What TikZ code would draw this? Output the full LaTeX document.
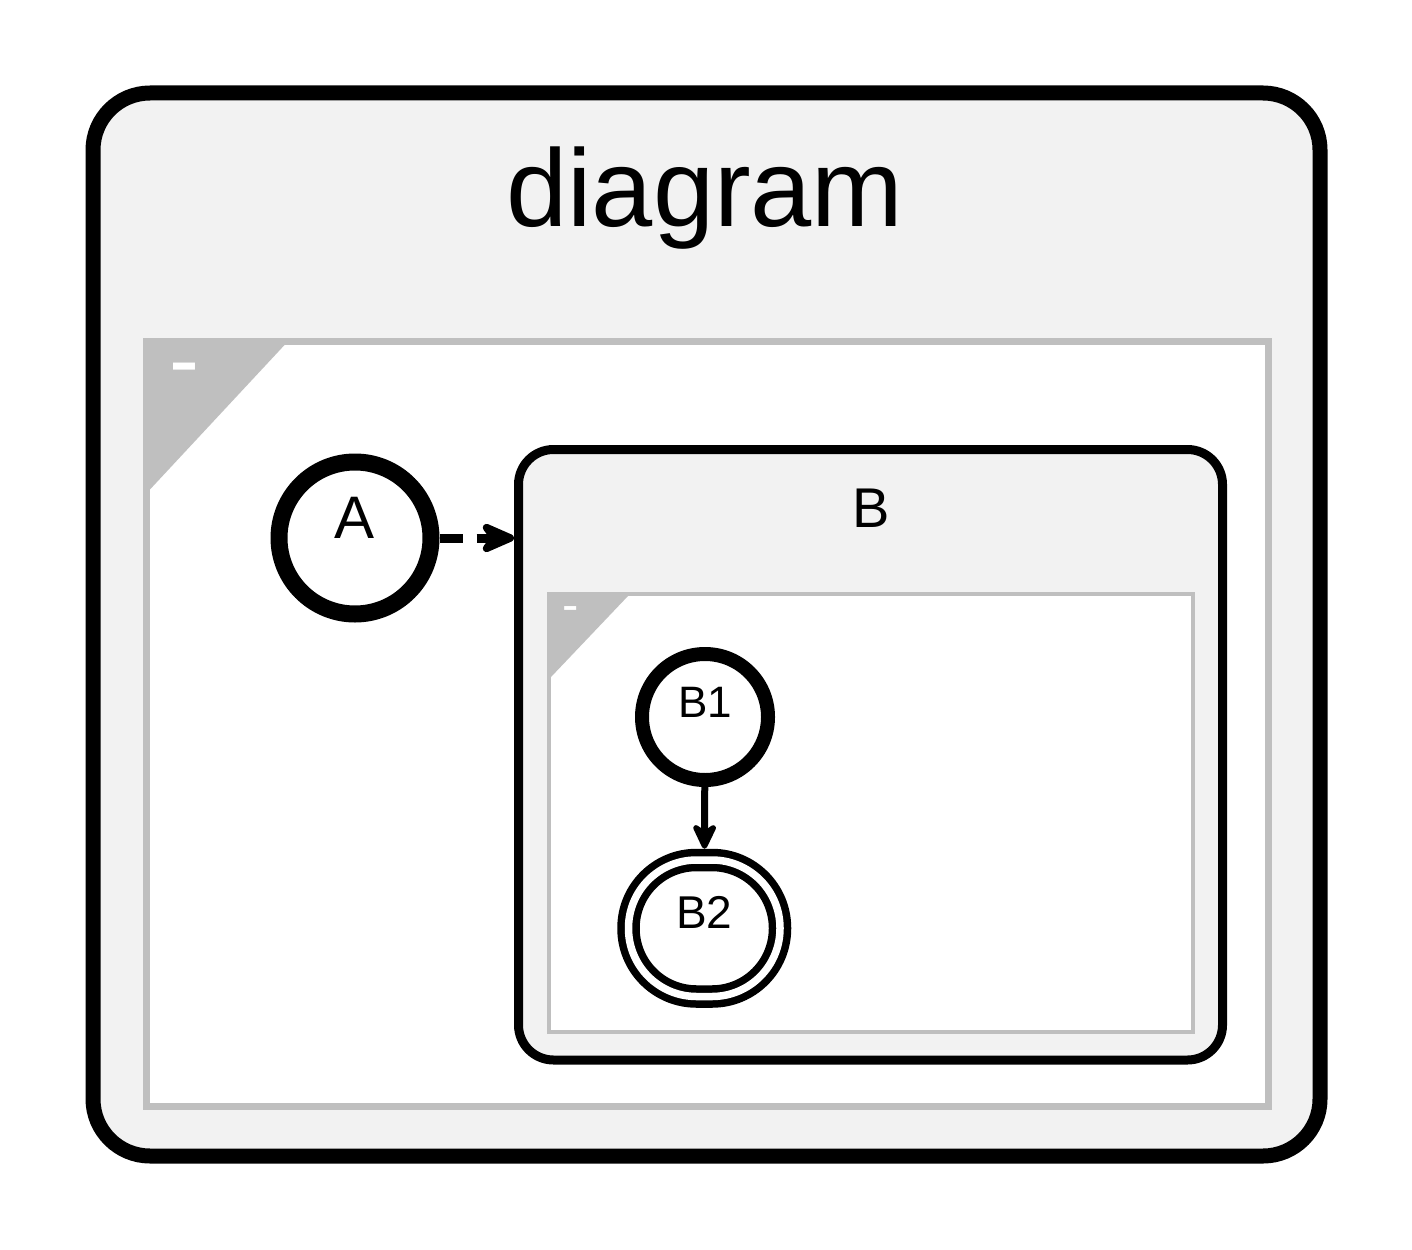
\documentclass[tikz,border=0pt]{standalone}
\usepackage{fontspec}
\setmainfont{Liberation Sans}
\usetikzlibrary{arrows.meta}
\definecolor{statefill}{HTML}{F2F2F2}
\definecolor{regiongray}{HTML}{BFBFBF}

\begin{document}
\begin{tikzpicture}[x=1pt,y=-1pt,
    container/.style={rectangle, draw, fill=statefill, inner sep=0pt},
    region/.style={rectangle, draw=regiongray, fill=white, inner sep=0pt},
    state/.style={circle, draw, fill=white, inner sep=0pt},
    toggle/.style={text=white, inner sep=0pt, anchor=base},
    title/.style={anchor=base, inner sep=0pt}]
    \fill[white] (0,0) rectangle (1412,1249);
    \useasboundingbox (0,0) rectangle (1412,1249);
    % outer state
    \node[container, line width=15pt, rounded corners=57pt, minimum width=1227pt, minimum height=1063pt] (diagram) at (706.5,624.5) {};
    \node[title, font=\fontsize{110}{110}\selectfont] (diagramlabel) at (705,227) {diagram};
    \node[region, line width=7pt, minimum width=1122.5pt, minimum height=765.5pt] (mainregion) at (707.25,723.75) {};
    \fill[regiongray] (149.5,344.5) -- (285,344.5) -- (149.5,490) -- cycle;
    \node[toggle, font=\fontsize{90}{90}\selectfont] (maintoggle) at (184,390.5) {-};
    % composite state B
    \node[container, line width=9pt, rounded corners=35pt, minimum width=704pt, minimum height=610.5pt] (B) at (870.5,754.75) {};
    \node[title, font=\fontsize{56}{56}\selectfont] (Blabel) at (871,527) {B};
    \node[region, line width=4pt, minimum width=644pt, minimum height=438pt] (Bregion) at (871,813) {};
    \fill[regiongray] (551,596) -- (628,596) -- (551,677) -- cycle;
    \node[toggle, font=\fontsize{49}{49}\selectfont] (Btoggle) at (571,621) {-};
    % simple states
    \node[state, line width=17pt, minimum size=152pt, text height=45pt, text depth=45pt, font=\fontsize{60}{60}\selectfont] (A) at (355,538) {A};
    \node[state, line width=14pt, minimum size=126pt, text height=33pt, text depth=33pt, font=\fontsize{44}{44}\selectfont] (B1) at (705,717) {B1};
    \node[rectangle, draw, fill=white, double=white, line width=7.5pt, double distance=7.5pt, rounded corners=68pt, outer sep=11.25pt, inner sep=0pt,
        minimum width=151.5pt, minimum height=136.5pt, text height=34pt, text depth=34pt, font=\fontsize{46}{46}\selectfont] (B2) at (704.25,928.25) {B2};
    % transitions
    \draw[line width=9pt, dash pattern=on 23pt off 14pt, -{Stealth[length=44pt, width=38pt, inset=14pt, round]}] (A.east) -- (A.east -| B.west);
    \draw[line width=7pt, -{Stealth[length=32pt, width=30pt, inset=10pt, round]}] (B1) -- (B2);
\end{tikzpicture}
\end{document}
